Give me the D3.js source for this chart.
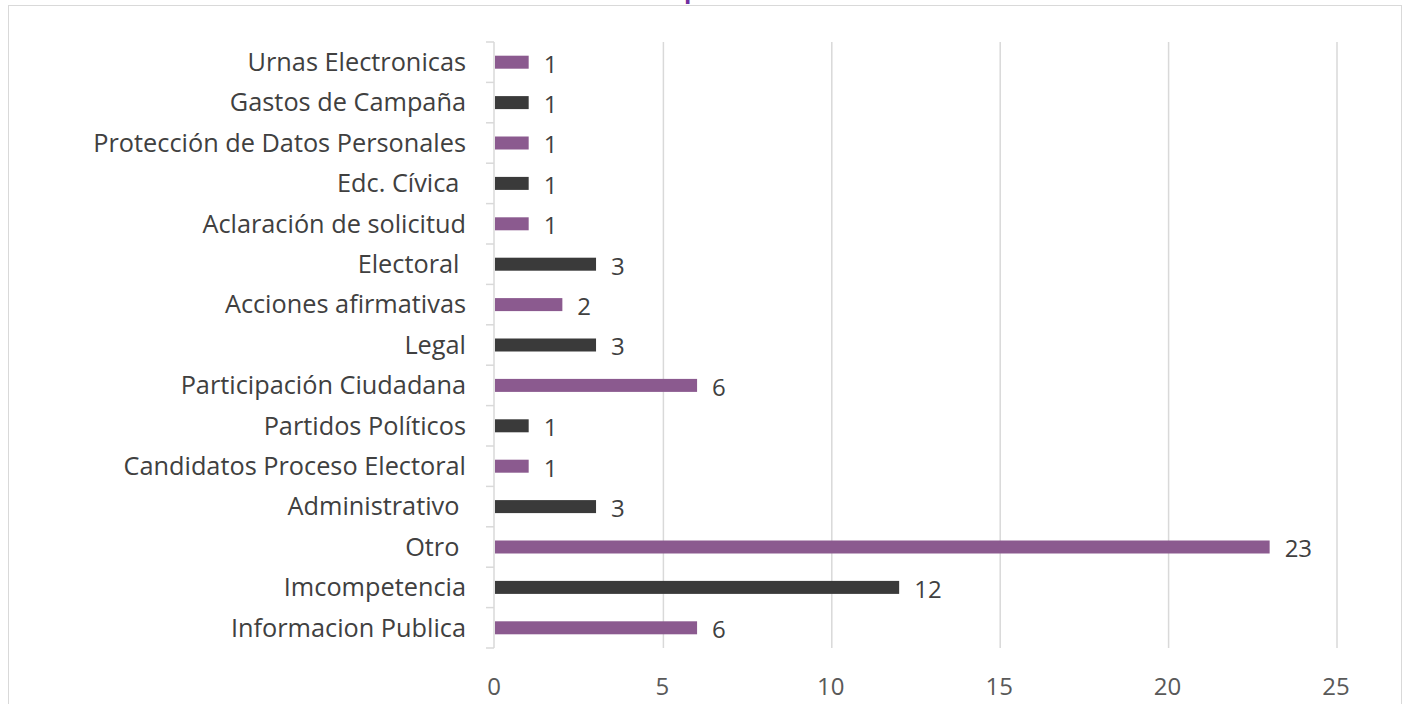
<!DOCTYPE html>
<html>
<head>
<meta charset="utf-8">
<script src="https://cdn.jsdelivr.net/npm/d3@7"></script>
<style>
  body { margin: 0; background: #fff; }
  text { font-family: "Open Sans", sans-serif; white-space: pre; }
</style>
</head>
<body>
<div id="chart"></div>
<script>
// categories listed bottom to top, like the source spreadsheet
var categories = ["Informacion Publica", "Imcompetencia", "Otro ", "Administrativo ",
    "Candidatos Proceso Electoral", "Partidos Políticos", "Participación Ciudadana", "Legal",
    "Acciones afirmativas", "Electoral ", "Aclaración de solicitud", "Edc. Cívica ",
    "Protección de Datos Personales", "Gastos de Campaña", "Urnas Electronicas"];
var values = [6, 12, 23, 3, 1, 1, 6, 3, 2, 3, 1, 1, 1, 1, 1];
var xTicks = [0, 5, 10, 15, 20, 25];
var barColors = ["#8b5a8f", "#3a3a3a"];
var title = "Solicitudes por tema";

var W = 1408, H = 704;
var margin = { top: 42, right: 71, bottom: 56, left: 495 };

var svg = d3.select("#chart").append("svg")
    .attr("width", W)
    .attr("height", H);

// chart frame
svg.append("rect")
    .attr("x", 8.5).attr("y", 5.5)
    .attr("width", 1393).attr("height", 720)
    .attr("fill", "none").attr("stroke", "#d9d9d9");

// title: only the tail of the "p" peeks in at the top of the picture
var t = svg.append("text")
    .attr("x", 0).attr("y", -2)
    .attr("fill", "#7030a0")
    .attr("font-size", 24)
    .attr("font-weight", "bold")
    .text(title);
var pOff = t.node().getStartPositionOfChar(title.indexOf("p")).x;
t.attr("x", 684 - pOff);

var x = d3.scaleLinear().domain([0, 25]).range([margin.left, W - margin.right]);
var y = d3.scaleBand().domain(categories)
    .range([H - margin.bottom, margin.top])
    .paddingInner(0).paddingOuter(0);

// vertical gridlines
svg.append("g").selectAll("line")
    .data(xTicks.filter(function (d) { return d > 0; }))
    .join("line")
    .attr("x1", function (d) { return x(d); })
    .attr("x2", function (d) { return x(d); })
    .attr("y1", margin.top)
    .attr("y2", H - margin.bottom)
    .attr("stroke", "#d9d9d9")
    .attr("stroke-width", 1.5);

// x tick labels
svg.append("g").selectAll("text")
    .data(xTicks)
    .join("text")
    .attr("x", function (d) { return x(d) - 1; })
    .attr("y", 695)
    .attr("text-anchor", "middle")
    .attr("font-size", 24)
    .attr("fill", "#595959")
    .text(function (d) { return d; });

// category axis with boundary ticks
var yAxis = svg.append("g")
    .attr("transform", "translate(" + (margin.left - 1) + ",0)");
yAxis.append("line")
    .attr("y1", margin.top).attr("y2", H - margin.bottom)
    .attr("stroke", "#d9d9d9").attr("stroke-width", 1.5);
var bounds = categories.map(function (c) { return y(c); }).concat([H - margin.bottom]);
yAxis.selectAll(".tk")
    .data(bounds)
    .join("line")
    .attr("class", "tk")
    .attr("x1", -8).attr("x2", 0)
    .attr("y1", function (d) { return d; })
    .attr("y2", function (d) { return d; })
    .attr("stroke", "#d9d9d9").attr("stroke-width", 1.5);

yAxis.selectAll(".lbl")
    .data(categories)
    .join("text")
    .attr("class", "lbl")
    .attr("x", -28)
    .attr("y", function (d) { return y(d) + y.bandwidth() / 2; })
    .attr("dy", "0.35em")
    .attr("text-anchor", "end")
    .attr("font-size", 25.3)
    .attr("fill", "#404040")
    .text(function (d) { return d; });

// bars
var barH = 13;
svg.append("g").selectAll("rect")
    .data(values)
    .join("rect")
    .attr("x", x(0))
    .attr("y", function (d, i) { return y(categories[i]) + y.bandwidth() / 2 - barH / 2; })
    .attr("width", function (d) { return x(d) - x(0); })
    .attr("height", barH)
    .attr("fill", function (d, i) { return barColors[i % 2]; });

// data labels
svg.append("g").selectAll("text")
    .data(values)
    .join("text")
    .attr("x", function (d) { return x(d) + 15; })
    .attr("y", function (d, i) { return y(categories[i]) + y.bandwidth() / 2 + 2; })
    .attr("dy", "0.35em")
    .attr("font-size", 24)
    .attr("fill", "#404040")
    .text(function (d) { return d; });
</script>
</body>
</html>
